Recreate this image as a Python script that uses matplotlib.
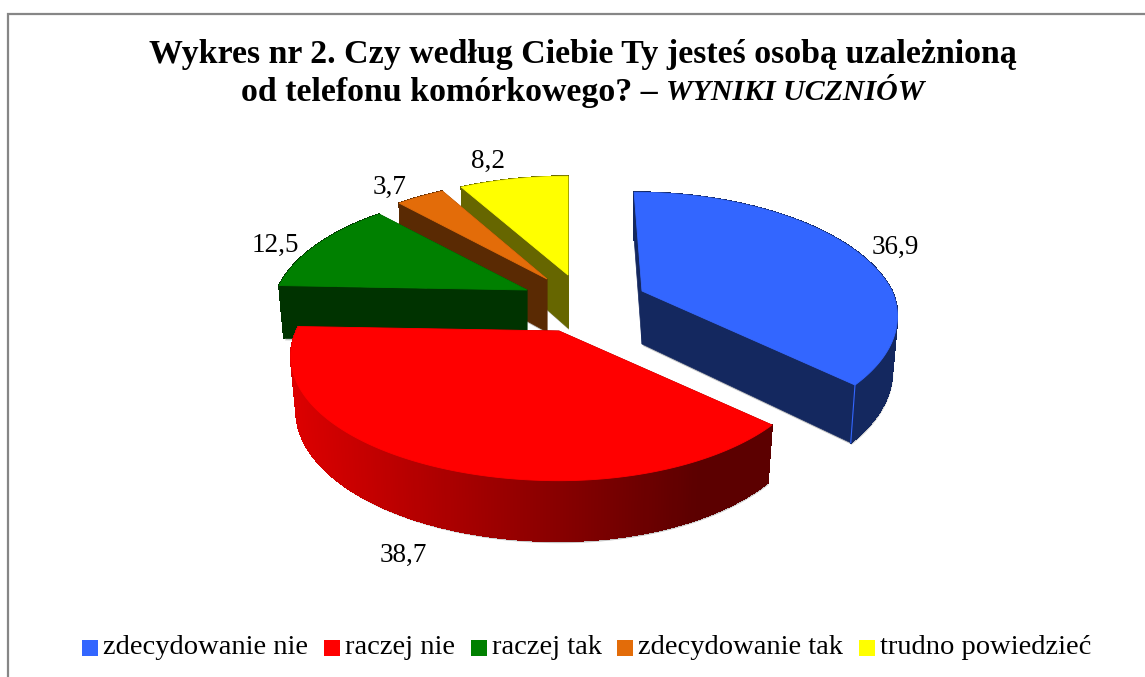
import numpy as np
from matplotlib import pyplot as plt
from matplotlib.collections import PolyCollection
from matplotlib.colors import to_rgb
from matplotlib.patches import Polygon, Rectangle

categories = ['zdecydowanie nie', 'raczej nie', 'raczej tak', 'zdecydowanie tak', 'trudno powiedzieć']
values = [36.9, 38.7, 12.5, 3.7, 8.2]
value_labels = ['36,9', '38,7', '12,5', '3,7', '8,2']

# colours: top face, cut face, side at left, side at right
top_colors = ['#3366ff', '#ff0000', '#008000', '#e36c09', '#ffff00']
face_colors = ['#14285f', '#600000', '#003300', '#5a2a03', '#666600']
side_left = ['#14285f', '#dc0000', '#003300', '#5a2a03', '#666600']
side_right = ['#14285f', '#5c0000', '#003300', '#5a2a03', '#666600']

# layout of the exploded pie, in pixels
apex_x = [642, 559, 527, 547, 568]
apex_y = [291, 331, 290, 279, 275]
left_stretch = [1, 1.05, 1, 1, 1.02]
back_shear = [0.08, 0, 0, 0, 0]
label_pos = [(895, 247), (403, 555), (275, 245), (390, 187), (488, 161)]
legend_box_x = [82, 324, 471, 617, 859]
RX, RY, PERSP, DEPTH = 250, 119, 0.205, 53
FONT = 'Liberation Serif'


def rim(t, i):
    # perspective view of the pie circle, t clockwise from 12 o'clock
    w = 1 + PERSP * np.cos(t)
    x = RX * np.sin(t) / w
    y = -RY * np.cos(t) / w
    x = np.where(x < 0, x * left_stretch[i], x)
    x = x + back_shear[i] * np.minimum(y, 0)
    return x, y


def lower(x, y):
    return x * 0.98, y * 1.05 + DEPTH


fig = plt.figure(figsize=(11.45, 6.77), dpi=100)
ax = fig.add_axes([0, 0, 1, 1])
ax.set_xlim(0, 1145)
ax.set_ylim(677, 0)
ax.axis('off')

ax.plot([7.5, 7.5, 1145], [677, 14, 14], color='#868686', lw=1.6, solid_joinstyle='miter')

edges = np.radians(np.concatenate([[0], np.cumsum(values)]) * 3.6)
for i in range(len(values)):
    t = np.linspace(edges[i], edges[i + 1], 240)
    x, y = rim(t, i)
    bx, by = lower(x, y)
    ax0, ay0 = apex_x[i], apex_y[i]
    order = {0: 1, 4: 2, 3: 3, 2: 4, 1: 5}[i] * 10

    # soft shadow under the slice
    sx = np.concatenate([[0], bx, [0]])
    sy = np.concatenate([[DEPTH], by, [DEPTH]])
    ax.add_patch(Polygon(np.c_[ax0 + sx + 1, ay0 + sy + 2], closed=True, fc='#000000',
                         alpha=0.22, ec='none', zorder=order))

    # the two cut faces
    for k in (0, -1):
        ax.add_patch(Polygon([(ax0, ay0), (ax0 + x[k], ay0 + y[k]), (ax0 + bx[k], ay0 + by[k]),
                              (ax0, ay0 + DEPTH)], closed=True, fc=face_colors[i],
                             ec=face_colors[i], lw=0.5, zorder=order + 1))

    # outer side, shaded along x; no antialiasing so the strips leave no seams
    c0, c1 = np.array(to_rgb(side_left[i])), np.array(to_rgb(side_right[i]))
    quads, cols = [], []
    for j in range(len(t) - 1):
        f = min((x[j] - x.min()) / max(x.max() - x.min(), 1) * 1.18, 1)
        quads.append([(ax0 + x[j], ay0 + y[j]), (ax0 + x[j + 1], ay0 + y[j + 1]),
                      (ax0 + bx[j + 1], ay0 + by[j + 1]), (ax0 + bx[j], ay0 + by[j])])
        cols.append(c0 + (c1 - c0) * f)
    ax.add_collection(PolyCollection(quads, facecolors=cols, edgecolors=cols, linewidths=0.7,
                                     antialiaseds=False, zorder=order + 2))

    # top face
    ax.add_patch(Polygon(np.c_[ax0 + np.r_[0, x], ay0 + np.r_[0, y]], closed=True,
                         fc=top_colors[i], ec=top_colors[i], lw=0.6, zorder=order + 3))

# bright seam on the front corner of the blue slice
x, y = rim(np.array([edges[1]]), 0)
bx, by = lower(x, y)
ax.plot([apex_x[0] + x[0], apex_x[0] + bx[0]], [apex_y[0] + y[0], apex_y[0] + by[0]],
        color=top_colors[0], lw=0.8, zorder=14)

for lab, (lx, ly) in zip(value_labels, label_pos):
    ax.text(lx, ly, lab, family=FONT, fontsize=19.5, ha='center', va='center', color='black', zorder=70)

# title, second line is mixed upright and italic so it is measured first
ax.text(583, 55, 'Wykres nr 2. Czy według Ciebie Ty jesteś osobą uzależnioną', family=FONT,
        fontsize=24.4, fontweight='bold', ha='center', va='center', zorder=70)
part_a = ax.text(0, 92, 'od telefonu komórkowego? – ', family=FONT, fontsize=24.4,
                 fontweight='bold', ha='left', va='center', zorder=70)
part_b = ax.text(0, 92, 'WYNIKI UCZNIÓW', family=FONT, fontsize=21.5, fontweight='bold',
                 style='italic', ha='left', va='center', zorder=70)
fig.canvas.draw()
rend = fig.canvas.get_renderer()
wa = part_a.get_window_extent(rend).width
wb = part_b.get_window_extent(rend).width
part_a.set_x(583 - (wa + wb) / 2)
part_b.set_x(583 - (wa + wb) / 2 + wa)

for i, name in enumerate(categories):
    ax.add_patch(Rectangle((legend_box_x[i], 640), 16, 16, fc=top_colors[i], ec='none', zorder=70))
    ax.text(legend_box_x[i] + 21, 648, name, family=FONT, fontsize=20.5, ha='left', va='center', zorder=70)

fig.savefig('out.png', dpi=100, facecolor='white')
